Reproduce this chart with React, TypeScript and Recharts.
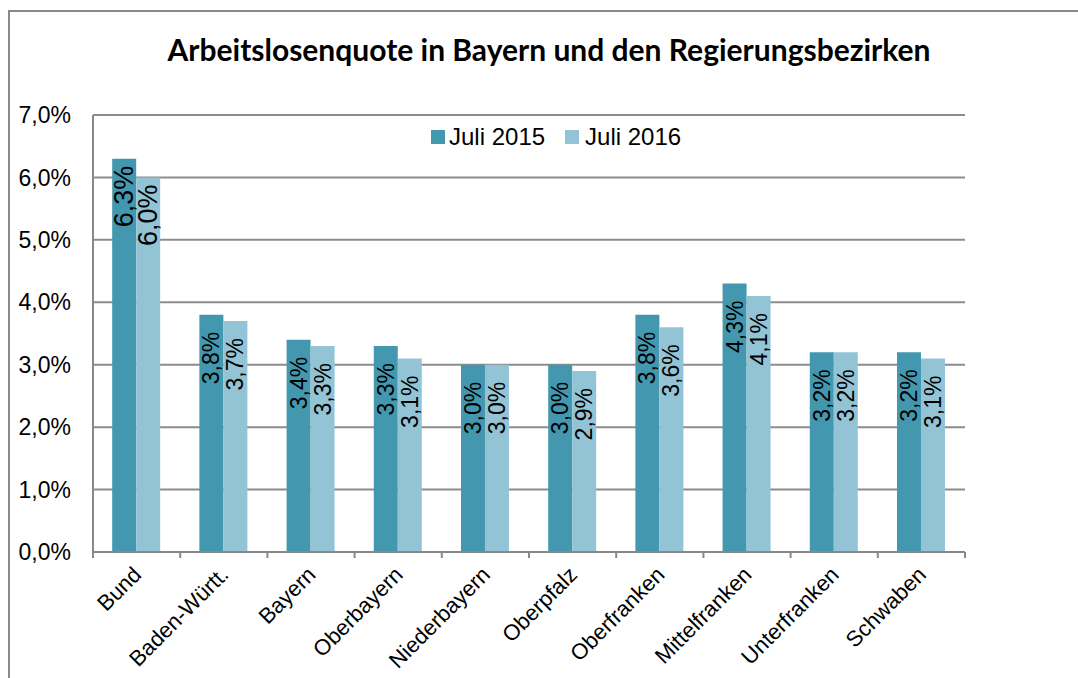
import React from 'react';
import { BarChart, Bar, XAxis, YAxis, CartesianGrid, LabelList } from 'recharts';

const regions = ['Bund', 'Baden-Württ.', 'Bayern', 'Oberbayern', 'Niederbayern', 'Oberpfalz', 'Oberfranken', 'Mittelfranken', 'Unterfranken', 'Schwaben'];
const juli2015 = [6.3, 3.8, 3.4, 3.3, 3.0, 3.0, 3.8, 4.3, 3.2, 3.2];
const juli2016 = [6.0, 3.7, 3.3, 3.1, 3.0, 2.9, 3.6, 4.1, 3.2, 3.1];
const yTicks = [0, 1, 2, 3, 4, 5, 6, 7];

const COLOR_2015 = '#4398b0';
const COLOR_2016 = '#93c4d6';
const ARIAL = "Arial, 'Liberation Sans', sans-serif";

const data = regions.map((name, i) => ({ name, j15: juli2015[i], j16: juli2016[i] }));

const fmt = (v: number) => `${v.toFixed(1).replace('.', ',')}%`;

// rotated value label, end of text sits just below the top of the bar
const renderValue = (props: any) => {
    const { x, y, width, value, index } = props;
    const big = index === 0; // Bund labels are drawn larger in the original
    const cx = x + width / 2;
    const ty = y + (big ? 7 : 17);
    return (
        <text x={cx} y={ty} transform={`rotate(-90 ${cx} ${ty})`} textAnchor="end" dominantBaseline="central"
            fontFamily={ARIAL} fontSize={big ? 27 : 23} fill="#000">
            {fmt(value)}
        </text>
    );
};

const XTick = (props: any) => {
    const { x, y, payload, index } = props;
    const band = 87.2;
    const ax = x + 6;
    const ay = y + 16;
    return (
        <g>
            <line x1={x - band / 2} y1={y - 8} x2={x - band / 2} y2={y - 2} stroke="#888" strokeWidth={2} />
            {index === regions.length - 1 && (
                <line x1={x + band / 2} y1={y - 8} x2={x + band / 2} y2={y - 2} stroke="#888" strokeWidth={2} />
            )}
            <text x={ax} y={ay} transform={`rotate(-45 ${ax} ${ay})`} textAnchor="end"
                fontFamily={ARIAL} fontSize={22} fill="#000">
                {payload.value}
            </text>
        </g>
    );
};

export default function App() {
    return (
        <div style={{ position: 'absolute', left: 0, top: 0, width: 1078, height: 678, background: '#fff', overflow: 'hidden' }}>
            <div style={{ position: 'absolute', left: 8, top: 10, width: 1100, height: 700, borderTop: '2px solid #8a8a8a', borderLeft: '2px solid #8a8a8a' }} />
            <div style={{ position: 'absolute', left: 0, width: 1098, top: 31, textAlign: 'center', fontFamily: "Lato, 'Noto Sans', sans-serif", fontWeight: 'bold', fontSize: 30, color: '#000' }}>
                Arbeitslosenquote in Bayern und den Regierungsbezirken
            </div>
            <div style={{ position: 'absolute', left: 0, top: 0 }}>
                <BarChart width={1078} height={678} data={data} margin={{ top: 115, right: 113, left: 8, bottom: 0 }}
                    barGap={0} barCategoryGap="22%">
                    <CartesianGrid vertical={false} stroke="#8c8c8c" strokeWidth={2} />
                    <XAxis dataKey="name" height={126} interval={0} tickLine={false} axisLine={{ stroke: '#888', strokeWidth: 2 }} tick={<XTick />} />
                    <YAxis domain={[0, 7]} ticks={yTicks} width={85} tickFormatter={fmt} tickLine={false}
                        axisLine={{ stroke: '#888', strokeWidth: 2 }}
                        tick={{ fontFamily: ARIAL, fontSize: 23, fill: '#000' }} tickMargin={16} />
                    <Bar dataKey="j15" name="Juli 2015" fill={COLOR_2015} isAnimationActive={false}>
                        <LabelList dataKey="j15" content={renderValue} />
                    </Bar>
                    <Bar dataKey="j16" name="Juli 2016" fill={COLOR_2016} isAnimationActive={false}>
                        <LabelList dataKey="j16" content={renderValue} />
                    </Bar>
                </BarChart>
            </div>
            <div style={{ position: 'absolute', left: 431, top: 123, display: 'flex', fontFamily: ARIAL, fontSize: 24, color: '#000', lineHeight: '28px' }}>
                <span style={{ display: 'flex', alignItems: 'center', marginRight: 20 }}>
                    <span style={{ width: 14, height: 14, background: COLOR_2015, marginRight: 4 }} />Juli 2015
                </span>
                <span style={{ display: 'flex', alignItems: 'center' }}>
                    <span style={{ width: 14, height: 14, background: COLOR_2016, marginRight: 6 }} />Juli 2016
                </span>
            </div>
        </div>
    );
}
